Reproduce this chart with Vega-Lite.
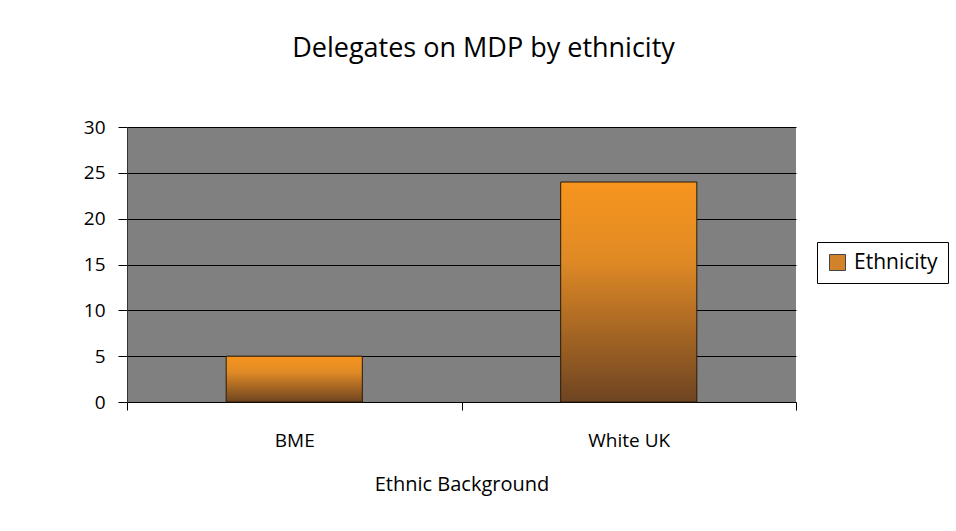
{
  "$schema": "https://vega.github.io/schema/vega-lite/v6.json",
  "width": 669,
  "height": 275,
  "autosize": {"type": "none"},
  "padding": {"left": 127, "top": 127, "right": 160, "bottom": 129},
  "background": "white",
  "title": {
    "text": "Delegates on MDP by ethnicity",
    "font": "Open Sans",
    "fontSize": 27,
    "fontWeight": "normal",
    "color": "#000000",
    "anchor": "middle",
    "offset": 55,
    "dx": 22
  },
  "data": {
    "values": [
      {"background": "BME", "delegates": 5, "series": "Ethnicity"},
      {"background": "White UK", "delegates": 24, "series": "Ethnicity"}
    ]
  },
  "encoding": {
    "x": {
      "field": "background",
      "type": "nominal",
      "sort": null,
      "scale": {"paddingInner": 0, "paddingOuter": 0},
      "axis": {
        "title": "Ethnic Background",
        "labelAngle": 0,
        "tickBand": "extent",
        "tickSize": 8,
        "tickColor": "#000000",
        "domainColor": "#000000",
        "labelPadding": 21,
        "labelFont": "Open Sans",
        "labelFontSize": 19,
        "labelColor": "#000000",
        "titleFont": "Open Sans",
        "titleFontSize": 20,
        "titleFontWeight": "normal",
        "titleColor": "#000000",
        "titlePadding": 24,
        "grid": false
      }
    },
    "y": {
      "field": "delegates",
      "type": "quantitative",
      "scale": {"domain": [0, 30], "nice": false},
      "axis": {
        "title": null,
        "values": [0, 5, 10, 15, 20, 25, 30],
        "grid": true,
        "gridColor": "#000000",
        "gridWidth": 1,
        "gridOpacity": 1,
        "tickSize": 9,
        "tickColor": "#000000",
        "domainColor": "#333333",
        "labelPadding": 13,
        "labelFont": "Open Sans",
        "labelFontSize": 19,
        "labelColor": "#000000"
      }
    }
  },
  "layer": [
    {
      "mark": {
        "type": "bar",
        "width": {"band": 0.407},
        "color": {
          "gradient": "linear",
          "x1": 0, "y1": 0, "x2": 0, "y2": 1,
          "stops": [
            {"offset": 0, "color": "#F7951E"},
            {"offset": 0.35, "color": "#E08A25"},
            {"offset": 1, "color": "#6E4421"}
          ]
        },
        "stroke": "#2a1a08",
        "strokeWidth": 1
      }
    },
    {
      "mark": {
        "type": "bar",
        "width": {"band": 0.407},
        "opacity": 0
      },
      "encoding": {
        "color": {
          "field": "series",
          "type": "nominal",
          "scale": {"range": ["#D2832A"]},
          "legend": {
            "title": null,
            "orient": "none",
            "legendX": 690,
            "legendY": 115,
            "symbolType": "square",
            "symbolSize": 256,
            "symbolOpacity": 1,
            "symbolStrokeColor": "#444444",
            "symbolStrokeWidth": 1,
            "labelFont": "Open Sans",
            "labelFontSize": 21,
            "labelColor": "#000000",
            "labelOffset": 6,
            "strokeColor": "#000000",
            "fillColor": "#ffffff",
            "padding": 10
          }
        }
      }
    }
  ],
  "config": {
    "view": {"fill": "#808080", "stroke": null}
  }
}
